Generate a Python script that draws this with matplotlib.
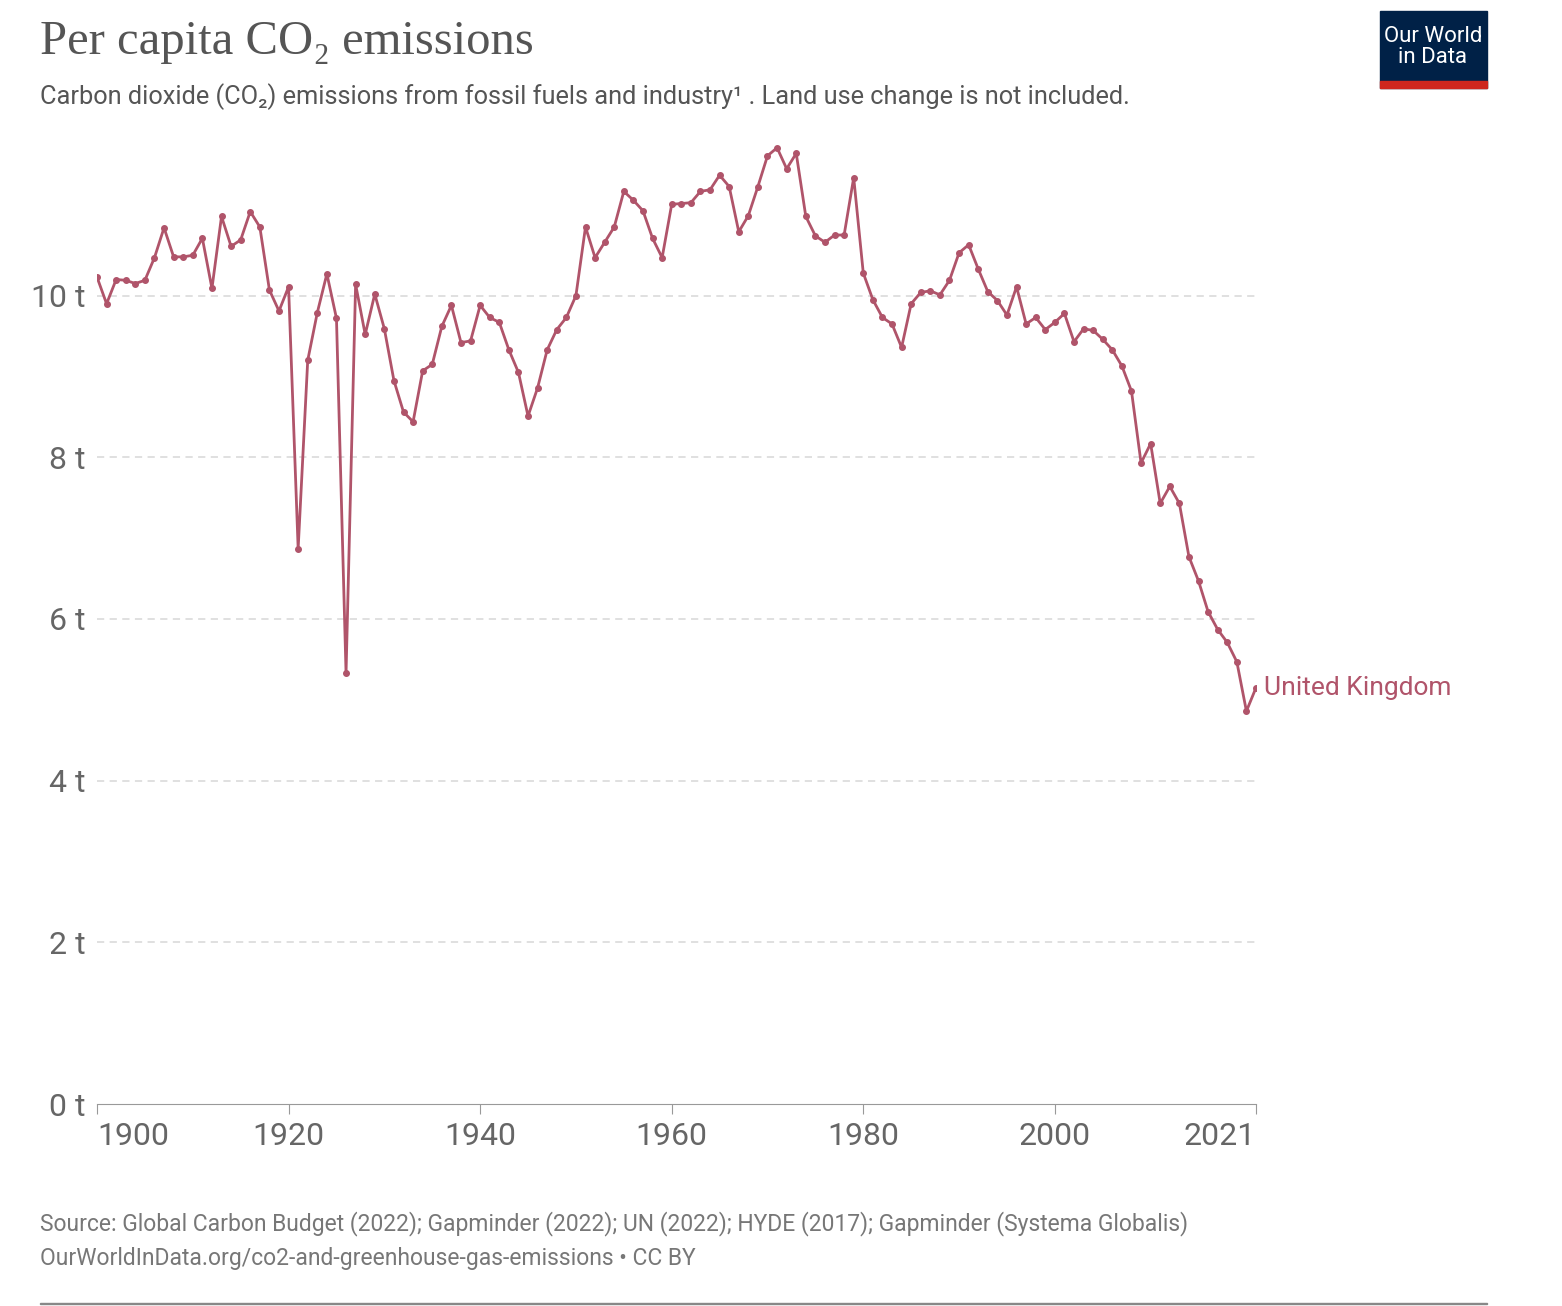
import matplotlib
matplotlib.use("Agg")
import matplotlib.pyplot as plt
import matplotlib.patches as mpatches
from matplotlib import font_manager

names = {f.name for f in font_manager.fontManager.ttflist}
fam = ["Liberation Sans Narrow"] if "Liberation Sans Narrow" in names else ["Roboto"]
plt.rcParams["font.family"] = fam + ["DejaVu Sans"]

years = list(range(1900, 2022))
values = [10.23,9.90,10.20,10.19,10.15,10.19,10.47,10.84,10.48,10.48,
10.50,10.71,10.09,10.98,10.61,10.69,11.04,10.85,10.07,9.81,
10.11,6.87,9.20,9.79,10.27,9.72,5.33,10.14,9.52,10.02,
9.59,8.95,8.56,8.44,9.07,9.15,9.62,9.88,9.42,9.44,
9.88,9.73,9.67,9.33,9.05,8.51,8.86,9.33,9.58,9.73,
10.00,10.85,10.47,10.66,10.85,11.29,11.18,11.05,10.71,10.47,
11.13,11.14,11.15,11.29,11.31,11.49,11.35,10.79,10.99,11.35,
11.73,11.83,11.57,11.76,10.98,10.74,10.66,10.75,10.75,11.46,
10.28,9.95,9.73,9.65,9.36,9.90,10.04,10.06,10.01,10.19,
10.53,10.63,10.33,10.05,9.94,9.76,10.11,9.65,9.73,9.58,
9.67,9.78,9.43,9.59,9.57,9.46,9.33,9.13,8.82,7.93,
8.17,7.43,7.64,7.43,6.77,6.47,6.09,5.87,5.71,5.47,
4.86,5.15]
yticks = [0, 2, 4, 6, 8, 10]
ytick_labels = ["0 t", "2 t", "4 t", "6 t", "8 t", "10 t"]
xticks = [1900, 1920, 1940, 1960, 1980, 2000, 2021]

W, H = 1562, 1306
fig = plt.figure(figsize=(W/100, H/100), dpi=100)
ax = fig.add_axes([97/W, 1-1104/H, (1256-97)/W, (1104-134)/H])
col = "#b0546a"
ax.plot(years, values, color=col, lw=2, marker="o", ms=4, zorder=3)
ax.set_xlim(1900, 2021)
ax.set_ylim(0, 12)
ax.set_yticks(yticks)
ax.set_yticklabels(ytick_labels)
ax.set_xticks(xticks)
ax.set_xticklabels([str(x) for x in xticks])
labs = ax.get_xticklabels()
labs[0].set_ha("left")
labs[-1].set_ha("right")
for y in yticks[1:]:
    ax.axhline(y, color="#dddddd", lw=1.3, ls=(0, (4, 3)), zorder=1)
for s in ["top", "right", "left"]:
    ax.spines[s].set_visible(False)
ax.spines["bottom"].set_color("#999999")
ax.tick_params(axis="y", length=0, labelsize=23, colors="#666666", pad=8)
ax.tick_params(axis="x", length=7, color="#999999", labelsize=23, labelcolor="#666666", pad=6)
ax.text(2021.8, values[-1], "United Kingdom", color=col, fontsize=19, va="center")

fig.text(40/W, 1-42/H, "Per capita CO₂ emissions", family=["Liberation Serif", "DejaVu Serif"], fontsize=35, color="#555555", va="center")
fig.text(40/W, 1-97/H, "Carbon dioxide (CO₂) emissions from fossil fuels and industry¹ . Land use change is not included.",
         fontsize=18.3, color="#555555", va="center")
fig.text(40/W, 1-1224/H, "Source: Global Carbon Budget (2022); Gapminder (2022); UN (2022); HYDE (2017); Gapminder (Systema Globalis)",
         fontsize=16.5, color="#777777", va="center")
fig.text(40/W, 1-1258/H, "OurWorldInData.org/co2-and-greenhouse-gas-emissions • CC BY",
         fontsize=16.5, color="#777777", va="center")
fig.add_artist(mpatches.Rectangle((40/W, 1-1304/H), (1487-40)/W, 1.5/H, color="#888888", transform=fig.transFigure))
fig.add_artist(mpatches.Rectangle((1380/W, 1-88/H), 107/W, 77/H, color="#002147", transform=fig.transFigure))
fig.add_artist(mpatches.Rectangle((1380/W, 1-88/H), 107/W, 7/H, color="#ce261e", transform=fig.transFigure))
fig.text(1433/W, 1-47/H, "Our World\nin Data", color="white", fontsize=16, ha="center", va="center", linespacing=1.0)
fig.savefig("out.png", dpi=100)
